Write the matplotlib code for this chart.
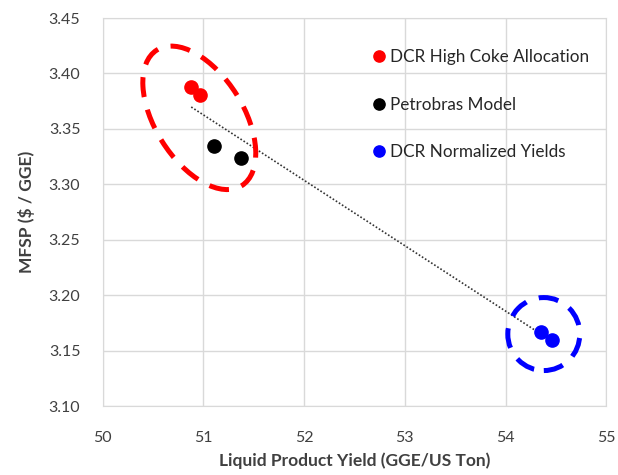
import numpy as np
import matplotlib.pyplot as plt
from matplotlib.patches import Ellipse
from matplotlib.transforms import ScaledTranslation

plt.rcParams['font.family'] = ['Lato', 'DejaVu Sans']

# data
dcr_coke_x = [50.88, 50.97]
dcr_coke_y = [3.388, 3.381]
petro_x = [51.11, 51.37]
petro_y = [3.335, 3.324]
dcr_norm_x = [54.35, 54.46]
dcr_norm_y = [3.167, 3.160]

fig = plt.figure(figsize=(6.18, 4.75), dpi=100)
ax = fig.add_axes([0.166, 0.145, 0.815, 0.817])

# linear trendline through all points (Excel style)
all_x = np.array(dcr_coke_x + petro_x + dcr_norm_x)
all_y = np.array(dcr_coke_y + petro_y + dcr_norm_y)
k, b = np.polyfit(all_x, all_y, 1)
tx = np.array([all_x.min(), all_x.max()])
ax.plot(tx, k * tx + b, color='#333333', lw=1.2, ls=(0, (1, 1.2)), zorder=2)

ax.plot(dcr_coke_x, dcr_coke_y, 'o', color='#ff0000', ms=9.5, ls='none',
        label='DCR High Coke Allocation', zorder=3)
ax.plot(petro_x, petro_y, 'o', color='black', ms=9.5, ls='none',
        label='Petrobras Model', zorder=3)
ax.plot(dcr_norm_x, dcr_norm_y, 'o', color='#0000ff', ms=9.5, ls='none',
        label='DCR Normalized Yields', zorder=3)

# dashed highlight ellipses, sized in inches around a data-space centre
def ring(cx, cy, w, h, ang, col):
    tr = fig.dpi_scale_trans + ScaledTranslation(cx, cy, ax.transData)
    e = Ellipse((0, 0), w, h, angle=ang, transform=tr, fill=False,
                edgecolor=col, lw=3.6, ls=(0, (4, 2.6)), zorder=4)
    ax.add_patch(e)

ring(50.96, 3.360, 1.60, 0.88, -58, '#ff0000')
ring(54.38, 3.165, 0.72, 0.73, 0, '#0000ff')

ax.set_xlim(50, 55)
ax.set_ylim(3.10, 3.45)
ax.set_xticks(np.arange(50, 55.1, 1))
ax.set_yticks(np.arange(3.10, 3.451, 0.05))
ax.set_yticklabels([f'{v:.2f}' for v in np.arange(3.10, 3.451, 0.05)])
ax.tick_params(length=0, labelsize=11.5, colors='#404040', pad=18)
ax.tick_params(axis='y', pad=16)
ax.grid(True, color='#d9d9d9', lw=1)
ax.set_axisbelow(True)
for s in ax.spines.values():
    s.set_color('#d9d9d9')

ax.set_xlabel('Liquid Product Yield (GGE/US Ton)', fontsize=12.5,
              fontweight='bold', color='#404040', labelpad=5)
ax.set_ylabel('MFSP ($ / GGE)', fontsize=12.5, fontweight='bold',
              color='#404040', labelpad=10)

ax.legend(loc='upper left', bbox_to_anchor=(0.508, 0.96), frameon=False,
          fontsize=12.3, handlelength=0.6, handletextpad=0.35,
          labelspacing=1.85, markerscale=0.85, labelcolor='#262626')

plt.savefig('out.png', dpi=100)
plt.close()
